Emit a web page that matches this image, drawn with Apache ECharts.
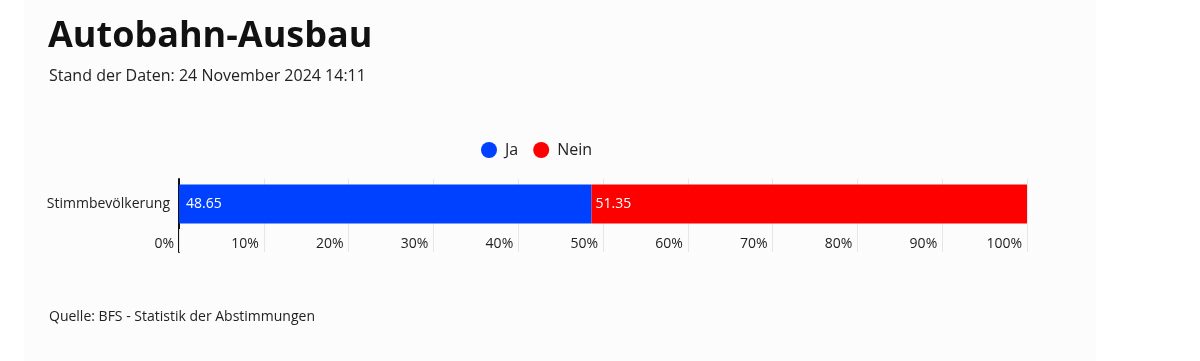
<!DOCTYPE html>
<html><head><meta charset="utf-8">
<script src="https://cdn.jsdelivr.net/npm/echarts@6/dist/echarts.min.js"></script>
<style>html,body{margin:0;padding:0;background:#fff}#c{width:1200px;height:361px}</style>
</head><body><div id="c"></div>
<script>
const titleText = 'Autobahn-Ausbau';
const subtitleText = 'Stand der Daten: 24 November 2024 14:11';
const sourceText = 'Quelle: BFS - Statistik der Abstimmungen';
const categories = ['Stimmbevölkerung'];
const seriesNames = ['Ja', 'Nein'];
const jaValues = [48.65];
const neinValues = [51.35];
const seriesColors = ['#0040ff', '#ff0000'];
const FONT = '"Open Sans", "Noto Sans", sans-serif';

const chart = echarts.init(document.getElementById('c'), null, {renderer: 'canvas'});
chart.setOption({
  animation: false,
  backgroundColor: '#ffffff',
  graphic: [{type: 'rect', z: -10, silent: true, shape: {x: 24, y: 0, width: 1072, height: 361}, style: {fill: '#fcfcfc'}}],
  title: [
    {text: titleText, left: 48, top: 19, padding: 0, textStyle: {fontFamily: FONT, fontWeight: 'bold', fontSize: 36, color: '#111'}},
    {text: subtitleText, left: 49, top: 68, padding: 0, textStyle: {fontFamily: FONT, fontWeight: 'normal', fontSize: 16, color: '#222'}},
    {text: sourceText, left: 49, top: 310, padding: 0, textStyle: {fontFamily: FONT, fontWeight: 'normal', fontSize: 14, color: '#222'}}
  ],
  legend: {
    left: 481, top: 142, padding: 0, icon: 'circle', itemWidth: 16, itemHeight: 16, itemGap: 15,
    textStyle: {fontFamily: FONT, fontSize: 16, color: '#222', padding: [0, 0, 0, 3]},
    data: seriesNames
  },
  grid: [
    {left: 179, right: 173, top: 179, height: 50},
    {left: 179, right: 173, top: 229, height: 23}
  ],
  xAxis: [
    {type: 'value', gridIndex: 0, min: 0, max: 100, interval: 10,
     axisLine: {show: false},
     axisTick: {show: true, length: 23, lineStyle: {color: '#e6e6e6', width: 1}},
     splitLine: {show: true, lineStyle: {color: '#e6e6e6', width: 1}},
     axisLabel: {formatter: '{value}%', align: 'right', padding: [0, 5, 0, 0], margin: 8,
                 fontFamily: FONT, fontSize: 14, color: '#222'}},
    {type: 'value', gridIndex: 1, min: 0, max: 100, show: false}
  ],
  yAxis: [
    {type: 'category', gridIndex: 0, data: categories,
     axisLine: {show: true, lineStyle: {color: '#111', width: 2}},
     axisTick: {show: false},
     axisLabel: {fontFamily: FONT, fontSize: 14, color: '#222', margin: 9}},
    {type: 'category', gridIndex: 1, data: [''],
     axisLine: {show: true, lineStyle: {color: '#111', width: 2}},
     axisTick: {show: false}, axisLabel: {show: false}}
  ],
  series: [
    {name: seriesNames[0], type: 'bar', stack: 't', data: jaValues, barWidth: 39,
     itemStyle: {color: seriesColors[0]},
     label: {show: true, position: 'insideLeft', distance: 7, color: '#fff', fontFamily: FONT, fontSize: 14}},
    {name: seriesNames[1], type: 'bar', stack: 't', data: neinValues, barWidth: 39,
     itemStyle: {color: seriesColors[1]},
     label: {show: true, position: 'insideLeft', distance: 4, color: '#fff', fontFamily: FONT, fontSize: 14}}
  ]
});
</script></body></html>
